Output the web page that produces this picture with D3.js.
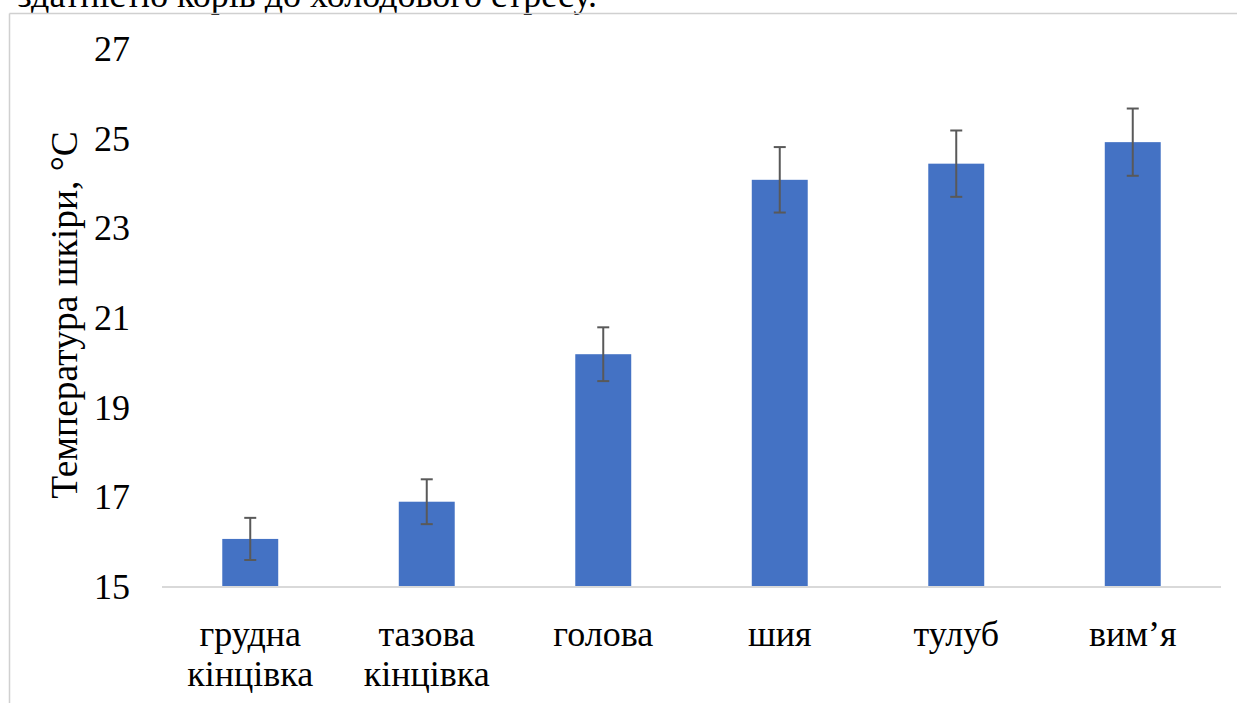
<!DOCTYPE html>
<html>
<head>
<meta charset="utf-8">
<script src="https://cdn.jsdelivr.net/npm/d3@7"></script>
</head>
<body style="margin:0;background:#fff">
<svg id="chart" width="1237" height="703" style="display:block"></svg>
<script>
const categories = [["грудна","кінцівка"],["тазова","кінцівка"],["голова"],["шия"],["тулуб"],["вим’я"]];
const values = [16.05, 16.88, 20.17, 24.06, 24.42, 24.9];
const errors = [0.47, 0.5, 0.6, 0.73, 0.74, 0.75];
const yTicks = [15, 17, 19, 21, 23, 25, 27];
const yLabel = "Температура шкіри, °C";
const topText = "здатністю корів до холодового стресу.";

const FONT = "'Liberation Serif'";
const FS = 36;
const svg = d3.select("#chart");
const W = 1237, H = 703;
const m = {left:162, right:1221, top:48, bottom:586};

function txt(sel, fs){ return sel.style("font-family", FONT).attr("font-family", "Liberation Serif").attr("font-size", fs || FS).attr("fill","#000"); }

// cut-off caption text at top (as in the reference page)
txt(svg.append("text").attr("x", 597).attr("y", 7).attr("text-anchor","end")).text(topText);

// frame (partial, as in the page)
svg.append("line").attr("x1",9.5).attr("x2",W).attr("y1",13.5).attr("y2",13.5).attr("stroke","#d0d0d0").attr("stroke-width",1.5);
svg.append("line").attr("x1",9.5).attr("x2",9.5).attr("y1",13.5).attr("y2",H).attr("stroke","#d0d0d0").attr("stroke-width",1.5);

const x = d3.scaleBand().domain(d3.range(categories.length)).range([m.left, m.right]).paddingInner(0.683).paddingOuter(0.3415);
const y = d3.scaleLinear().domain([15, 27]).range([m.bottom, m.top]);

// bars
svg.append("g").selectAll("rect").data(values).join("rect")
  .attr("x", (d,i)=>x(i)).attr("width", x.bandwidth())
  .attr("y", d=>y(d)).attr("height", d=>y(15)-y(d))
  .attr("fill", "#4472c4");

// baseline axis
svg.append("line").attr("x1", m.left).attr("x2", m.right).attr("y1", m.bottom+1).attr("y2", m.bottom+1)
  .attr("stroke", "#d9d9d9").attr("stroke-width", 2);

// error bars
const eg = svg.append("g").attr("stroke", "#595959").attr("stroke-width", 2);
values.forEach((v,i)=>{
  const cx = x(i) + x.bandwidth()/2;
  eg.append("line").attr("x1",cx).attr("x2",cx).attr("y1",y(v+errors[i])).attr("y2",y(v-errors[i]));
  eg.append("line").attr("x1",cx-6).attr("x2",cx+6).attr("y1",y(v+errors[i])).attr("y2",y(v+errors[i]));
  eg.append("line").attr("x1",cx-6).attr("x2",cx+6).attr("y1",y(v-errors[i])).attr("y2",y(v-errors[i]));
});

// y axis tick labels
const yAxis = d3.axisLeft(y).tickValues(yTicks).tickSize(0).tickPadding(0).tickFormat(d3.format("d"));
const ya = svg.append("g").attr("transform", "translate(130,0)").call(yAxis);
ya.attr("font-family", "Liberation Serif").attr("font-size", FS);
ya.select(".domain").remove();
txt(ya.selectAll("text")).attr("dy","0.35em");

// x category labels
categories.forEach((lines,i)=>{
  const cx = x(i) + x.bandwidth()/2;
  const t = txt(svg.append("text").attr("x", cx).attr("y", 646).attr("text-anchor","middle"));
  lines.forEach((s,j)=>{
    t.append("tspan").attr("x", cx).attr("dy", j===0?0:40).text(s);
  });
});

// y label
txt(svg.append("text").attr("transform", "translate(77,315) rotate(-90)").attr("text-anchor","middle"), 37.5).text(yLabel);
</script>
</body>
</html>
